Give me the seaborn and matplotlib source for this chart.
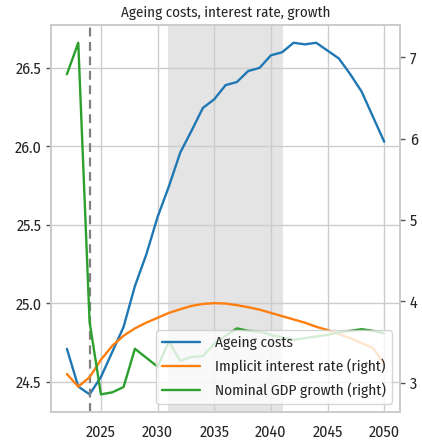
import matplotlib
matplotlib.use("Agg")
import matplotlib.pyplot as plt
import seaborn as sns
import pandas as pd

years = list(range(2022, 2051))
ageing_costs = [24.71, 24.47, 24.42, 24.53, 24.69, 24.85, 25.11, 25.31, 25.55, 25.745,
                25.96, 26.10, 26.245, 26.30, 26.39, 26.41, 26.48, 26.50, 26.58, 26.60,
                26.66, 26.65, 26.66, 26.61, 26.56, 26.46, 26.35, 26.19, 26.03]
interest_rate = [3.11, 2.955, 3.07, 3.285, 3.456, 3.58, 3.67, 3.74, 3.80, 3.86,
                 3.905, 3.946, 3.97, 3.98, 3.975, 3.955, 3.93, 3.90, 3.86, 3.82,
                 3.78, 3.74, 3.69, 3.65, 3.60, 3.55, 3.49, 3.43, 3.236]
gdp_growth = [6.79, 7.176, 3.75, 2.86, 2.885, 2.95, 3.42, 3.31, 3.20, 3.51,
              3.27, 3.32, 3.33, 3.48, 3.58, 3.67, 3.64, 3.63, 3.59, 3.56,
              3.53, 3.55, 3.57, 3.59, 3.62, 3.64, 3.66, 3.64, 3.61]
labels = ["Ageing costs", "Implicit interest rate (right)", "Nominal GDP growth (right)"]
title = "Ageing costs, interest rate, growth"
span_start, span_end = 2030.92, 2041.08
vline_year = 2024

df = pd.DataFrame({"year": years, "ageing": ageing_costs,
                   "rate": interest_rate, "growth": gdp_growth})

sns.set_theme(style="whitegrid")
plt.rcParams['font.family'] = ['Fira Sans Condensed', 'DejaVu Sans']
plt.rcParams['axes.edgecolor'] = '#cccccc'
plt.rcParams['grid.color'] = '#cccccc'

TICK_FS = 11.5
TITLE_FS = 10.8
LEG_FS = 11
fig, ax = plt.subplots(figsize=(4.22, 4.42), dpi=100)
fig.subplots_adjust(left=0.121, right=0.948, top=0.943, bottom=0.068)

sns.lineplot(data=df, x="year", y="ageing", ax=ax, color="#1f77b4", lw=1.7, label=labels[0], legend=False)
ax.axvspan(span_start, span_end, color="#dcdcdc", alpha=0.75, lw=0, zorder=0)
ax.axvline(vline_year, color="grey", ls="--", lw=1.6, dashes=(4, 2.5))

ax2 = ax.twinx()
sns.lineplot(data=df, x="year", y="rate", ax=ax2, color="#ff7f0e", lw=1.7, label=labels[1], legend=False)
sns.lineplot(data=df, x="year", y="growth", ax=ax2, color="#2ca02c", lw=1.7, label=labels[2], legend=False)
ax2.grid(False)

ax.set_title(title, fontsize=TITLE_FS, color="#262626", pad=6)
ax.set_xlabel("")
ax.set_ylabel("")
ax2.set_ylabel("")
ax.set_xticks([2025, 2030, 2035, 2040, 2045, 2050])
ax.set_yticks([24.5, 25.0, 25.5, 26.0, 26.5])
ax2.set_yticks([3, 4, 5, 6, 7])
ax.tick_params(axis="y", left=True, length=3.5, width=1, color="#555555", labelsize=TICK_FS, pad=3.5)
ax.tick_params(axis="x", bottom=False, labelsize=TICK_FS, pad=3)
ax2.tick_params(axis="y", right=True, length=3.5, width=1, color="#555555", labelsize=TICK_FS, pad=3.5)
for s in list(ax.spines.values()) + list(ax2.spines.values()):
    s.set_color("#cccccc")

h1, l1 = ax.get_legend_handles_labels()
h2, l2 = ax2.get_legend_handles_labels()
leg = ax2.legend(h1 + h2, l1 + l2, loc="lower right", fontsize=LEG_FS, framealpha=0.8,
                 handlelength=2.5, handletextpad=1.0, labelspacing=0.55, borderaxespad=0.5)

fig.savefig("out.png", dpi=100)
